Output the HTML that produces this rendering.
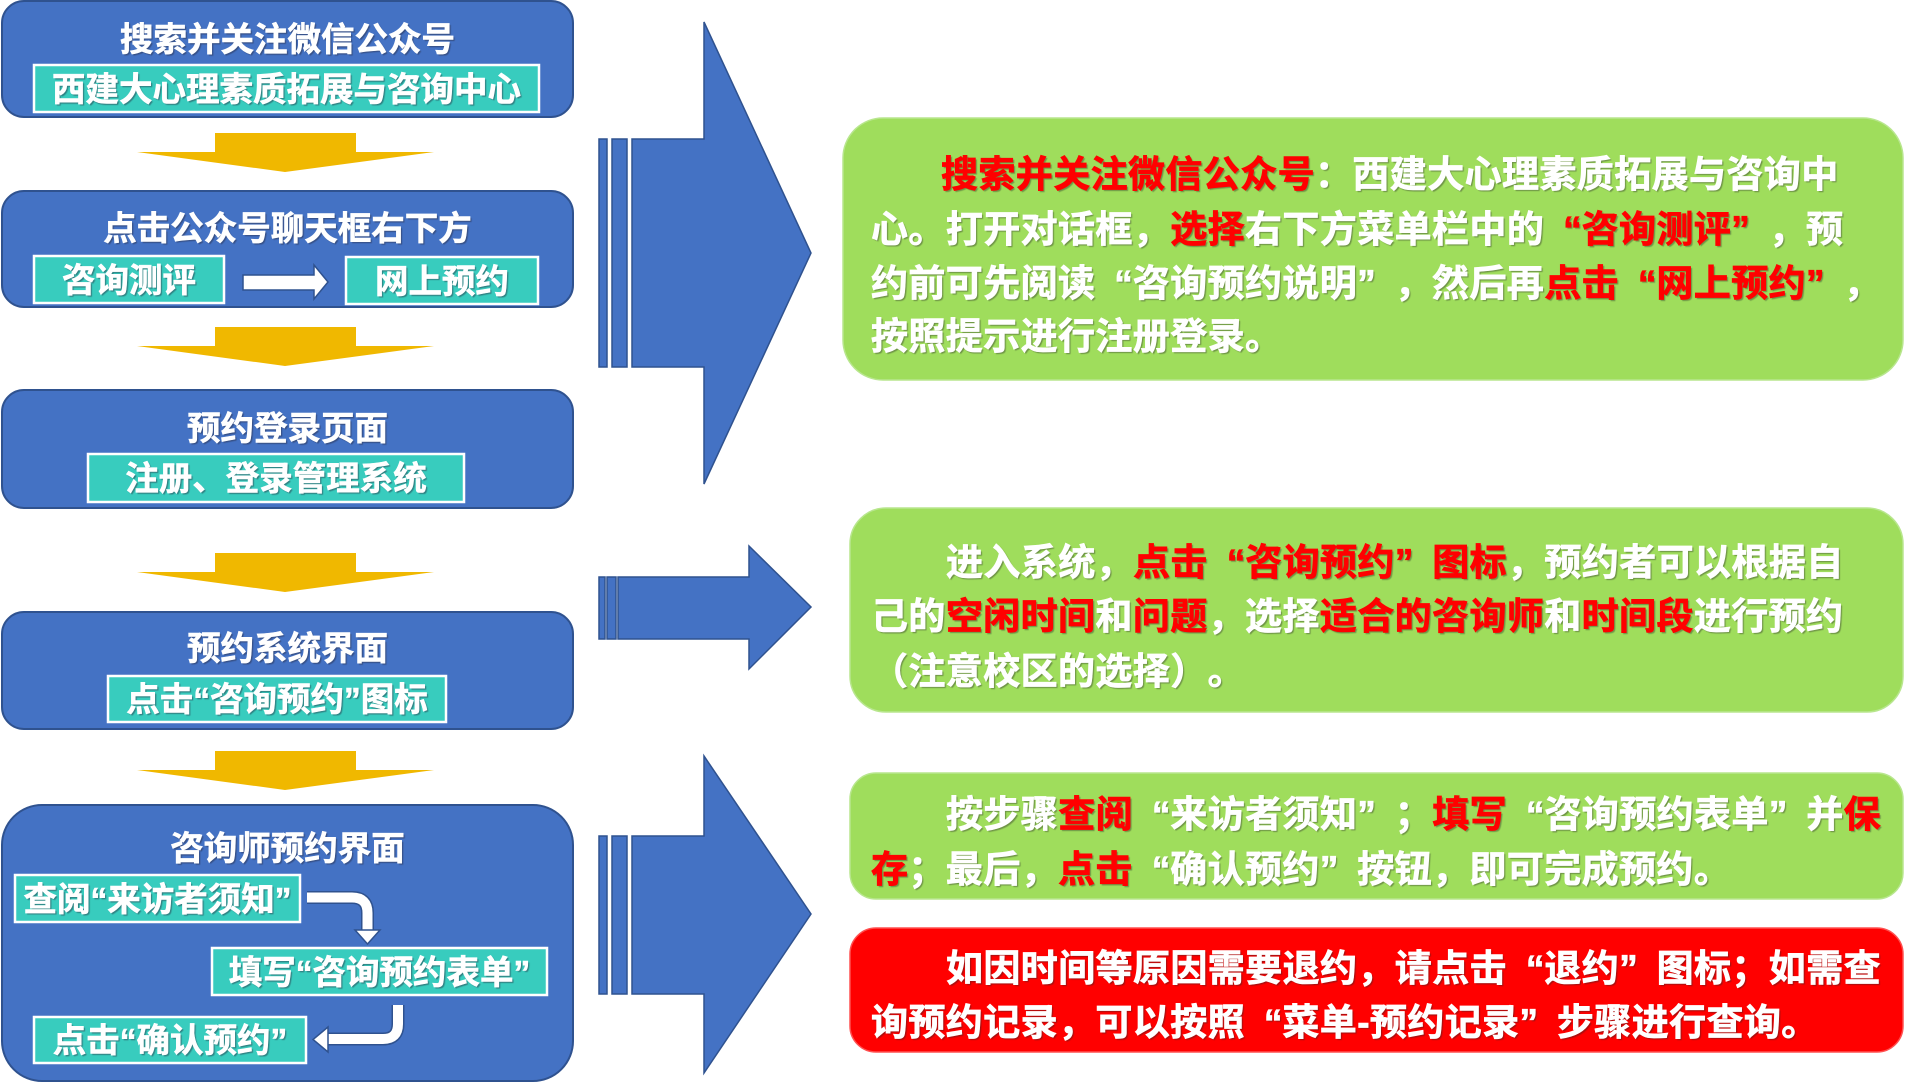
<!DOCTYPE html>
<html><head><meta charset="utf-8">
<style>
html,body{margin:0;padding:0;}
body{width:1908px;height:1083px;position:relative;overflow:hidden;background:#fff;
font-family:"Liberation Sans","Noto Sans CJK SC",sans-serif;}
svg{position:absolute;left:0;top:0;}
.t{position:absolute;color:#fff;font-weight:700;white-space:nowrap;text-align:center;
font-size:33.5px;text-shadow:1.5px 1.5px 1px rgba(40,40,60,0.45);
-webkit-text-stroke-width:0.6px;text-spacing-trim:space-all;}
.r{position:absolute;left:871px;color:#fff;font-weight:700;white-space:nowrap;
font-size:37px;letter-spacing:0.4px;line-height:54px;height:54px;
text-shadow:1.5px 1.5px 1px rgba(40,40,40,0.4);
-webkit-text-stroke-width:0.7px;text-spacing-trim:space-all;}
.r b{color:#ff0000;font-weight:700;}
.in{padding-left:70px;}
.in2{padding-left:75px;}
.qo,.qc{display:inline-block;width:37.4px;letter-spacing:0;}
.qo{text-align:right;}
.qc{text-align:left;}
</style></head><body>
<svg width="1908" height="1083" viewBox="0 0 1908 1083">
<g fill="#4472C4" stroke="#2F528F" stroke-width="2">
<rect x="2" y="1" width="571" height="116" rx="22"/>
<rect x="2" y="191" width="571" height="116" rx="22"/>
<rect x="2" y="390" width="571" height="118" rx="22"/>
<rect x="2" y="612" width="571" height="117" rx="22"/>
<rect x="2" y="805" width="571" height="276" rx="40"/>
</g>
<g fill="#38CCBE" stroke="#ffffff" stroke-width="2.5">
<rect x="34" y="65" width="505" height="47"/>
<rect x="34" y="256" width="190" height="47"/>
<rect x="346" y="257" width="192" height="47"/>
<rect x="88" y="454" width="376" height="48"/>
<rect x="108" y="676" width="338" height="46"/>
<rect x="15" y="875" width="285" height="47"/>
<rect x="212" y="948" width="335" height="47"/>
<rect x="34" y="1017" width="272" height="46"/>
</g>
<g fill="#F0B800">
<polygon points="215,133 356,133 356,152 434,152 285,172 137,152 215,152"/>
<polygon points="215,327 356,327 356,346 434,346 285,366 137,346 215,346"/>
<polygon points="215,553 356,553 356,572 434,572 285,592 137,572 215,572"/>
<polygon points="215,751 356,751 356,770 434,770 285,790 137,770 215,770"/>
</g>
<polygon points="243,275 314,275 314,265 328,282 314,299 314,290 243,290" fill="#fff" stroke="#2F528F" stroke-width="1.5"/>
<path d="M307,897.5 H352 Q367.5,897.5 367.5,913 V931" fill="none" stroke="#2F528F" stroke-width="13"/>
<path d="M307,897.5 H352 Q367.5,897.5 367.5,913 V932" fill="none" stroke="#fff" stroke-width="10"/>
<polygon points="355,930 380,930 367.5,944" fill="#fff" stroke="#2F528F" stroke-width="1.5"/>
<path d="M398,1005 V1024 Q398,1039 383,1039 H327" fill="none" stroke="#2F528F" stroke-width="13"/>
<path d="M398,1005 V1024 Q398,1039 383,1039 H326" fill="none" stroke="#fff" stroke-width="10"/>
<polygon points="328,1027 328,1052 313,1039.5" fill="#fff" stroke="#2F528F" stroke-width="1.5"/>
<g fill="#4472C4" stroke="#2F528F" stroke-width="1.5">
<rect x="599" y="139" width="8" height="228"/>
<rect x="612" y="139" width="15" height="228"/>
<polygon points="632,139 704,139 704,22 811,253 704,484 704,367 632,367"/>
<rect x="599" y="577" width="6" height="62"/>
<rect x="607" y="577" width="9" height="62"/>
<polygon points="618,577 749,577 749,546 811,607 749,669 749,639 618,639"/>
<rect x="599" y="836" width="8" height="158"/>
<rect x="612" y="836" width="15" height="158"/>
<polygon points="632,836 704,836 704,756 811,914 704,1073 704,994 632,994"/>
</g>
<g fill="#9FDD5C" stroke="#B8E68E" stroke-width="1.5">
<rect x="843" y="118" width="1060" height="262" rx="40"/>
<rect x="850" y="508" width="1053" height="204" rx="36"/>
<rect x="850" y="773" width="1053" height="126" rx="26"/>
</g>
<rect x="850" y="928" width="1053" height="124" rx="26" fill="#FF0000" stroke="#FF5050" stroke-width="1.5"/>
</svg>

<div class="t" style="left:2px;width:571px;top:21px;line-height:40px;">搜索并关注微信公众号</div>
<div class="t" style="left:34px;width:505px;top:67px;line-height:47px;">西建大心理素质拓展与咨询中心</div>

<div class="t" style="left:2px;width:571px;top:210px;line-height:40px;">点击公众号聊天框右下方</div>
<div class="t" style="left:34px;width:190px;top:258px;line-height:47px;">咨询测评</div>
<div class="t" style="left:346px;width:192px;top:259px;line-height:47px;">网上预约</div>

<div class="t" style="left:2px;width:571px;top:410px;line-height:40px;">预约登录页面</div>
<div class="t" style="left:88px;width:376px;top:456px;line-height:48px;">注册、登录管理系统</div>

<div class="t" style="left:2px;width:571px;top:630px;line-height:40px;">预约系统界面</div>
<div class="t" style="left:108px;width:338px;top:678px;line-height:46px;">点击“咨询预约”图标</div>

<div class="t" style="left:2px;width:571px;top:830px;line-height:40px;">咨询师预约界面</div>
<div class="t" style="left:15px;width:285px;top:877px;line-height:47px;">查阅“来访者须知”</div>
<div class="t" style="left:212px;width:335px;top:950px;line-height:47px;">填写“咨询预约表单”</div>
<div class="t" style="left:34px;width:272px;top:1019px;line-height:46px;">点击“确认预约”</div>

<div class="r in" style="top:148px;"><b>搜索并关注微信公众号</b>：西建大心理素质拓展与咨询中</div>
<div class="r" style="top:203px;">心。打开对话框，<b>选择</b>右下方菜单栏中的<b><span class="qo">“</span>咨询测评<span class="qc">”</span></b>，预</div>
<div class="r" style="top:257px;">约前可先阅读<span class="qo">“</span>咨询预约说明<span class="qc">”</span>，然后再<b>点击<span class="qo">“</span>网上预约<span class="qc">”</span></b>，</div>
<div class="r" style="top:310px;">按照提示进行注册登录。</div>

<div class="r in2" style="top:536px;">进入系统，<b>点击<span class="qo">“</span>咨询预约<span class="qc">”</span>图标</b>，预约者可以根据自</div>
<div class="r" style="top:590px;">己的<b>空闲时间</b>和<b>问题</b>，选择<b>适合的咨询师</b>和<b>时间段</b>进行预约</div>
<div class="r" style="top:645px;">（注意校区的选择）。</div>

<div class="r in2" style="top:788px;">按步骤<b>查阅</b><span class="qo">“</span>来访者须知<span class="qc">”</span>；<b>填写</b><span class="qo">“</span>咨询预约表单<span class="qc">”</span>并<b>保</b></div>
<div class="r" style="top:843px;"><b>存</b>；最后，<b>点击</b><span class="qo">“</span>确认预约<span class="qc">”</span>按钮，即可完成预约。</div>

<div class="r in2" style="top:942px;">如因时间等原因需要退约，请点击<span class="qo">“</span>退约<span class="qc">”</span>图标；如需查</div>
<div class="r" style="top:996px;">询预约记录，可以按照<span class="qo">“</span>菜单-预约记录<span class="qc">”</span>步骤进行查询。</div>
</body></html>
